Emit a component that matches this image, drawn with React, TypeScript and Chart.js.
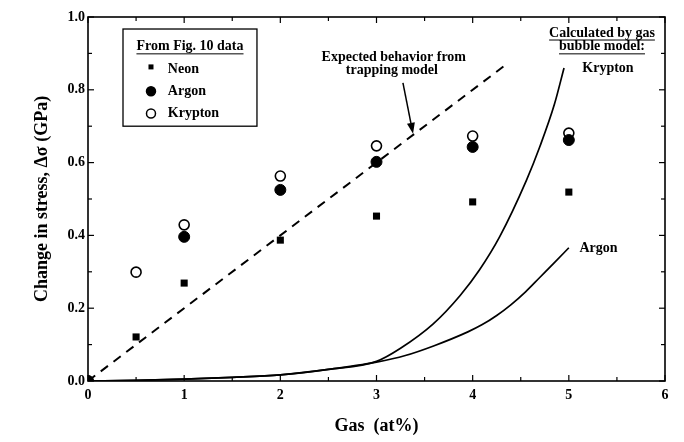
import React, { useEffect, useRef } from "react";
import { Chart, registerables } from "chart.js";

Chart.register(...registerables);

const FONT = '"Liberation Serif", "Times New Roman", serif';

// Measured data (from Fig. 10)
const neonX = [0, 0.5, 1, 2, 3, 4, 5];
const neonY = [0, 0.121, 0.269, 0.387, 0.453, 0.492, 0.519];
const argonX = [0, 1, 2, 3, 4, 5];
const argonY = [0, 0.396, 0.525, 0.602, 0.643, 0.662];
const kryptonX = [0, 0.5, 1, 2, 3, 4, 5];
const kryptonY = [0, 0.299, 0.429, 0.563, 0.646, 0.673, 0.681];

// Trapping model (dashed)
const trapX = [0, 4.34];
const trapY = [0, 0.868];

// Gas bubble model curves
const krModelX = [0, 0.5, 1, 1.5, 2, 2.5, 3, 3.25, 3.59, 3.87, 4.07, 4.28, 4.56, 4.7, 4.85, 4.95];
const krModelY = [0, 0.002, 0.005, 0.01, 0.017, 0.032, 0.054, 0.09, 0.157, 0.235, 0.305, 0.396, 0.552, 0.645, 0.76, 0.86];
const arModelX = [0, 0.5, 1, 1.5, 2, 2.5, 3, 3.3, 3.6, 3.95, 4.1, 4.25, 4.4, 4.55, 4.7, 4.85, 5.0];
const arModelY = [0, 0.002, 0.005, 0.01, 0.017, 0.032, 0.052, 0.07, 0.097, 0.135, 0.155, 0.18, 0.21, 0.245, 0.285, 0.325, 0.366];

// Axis ticks
const xTicks = [0, 1, 2, 3, 4, 5, 6];
const xMinorTicks = [0.5, 1.5, 2.5, 3.5, 4.5, 5.5];
const yTicks = [0, 0.2, 0.4, 0.6, 0.8, 1.0];
const yMinorTicks = [0.1, 0.3, 0.5, 0.7, 0.9];

const legendTitle = "From Fig. 10 data";
const trapLabel = ["Expected behavior from", "trapping model"];
const bubbleTitle = ["Calculated by gas", "bubble model:"];

const pts = (xs: number[], ys: number[]) => xs.map((x, i) => ({ x, y: ys[i] }));

function underlineText(ctx: CanvasRenderingContext2D, text: string, cx: number, cy: number) {
  ctx.fillText(text, cx, cy);
  const w = ctx.measureText(text).width;
  ctx.beginPath();
  ctx.lineWidth = 1;
  ctx.moveTo(cx - w / 2, cy + 7);
  ctx.lineTo(cx + w / 2, cy + 7);
  ctx.stroke();
}

const decor = {
  id: "decor",
  afterDatasetsDraw(chart: any) {
    const { ctx, chartArea: a, scales } = chart;
    const xs = scales.x;
    const ys = scales.y;
    ctx.save();
    ctx.strokeStyle = "#000";
    ctx.fillStyle = "#000";
    // frame
    ctx.lineWidth = 1.6;
    ctx.strokeRect(a.left, a.top, a.right - a.left, a.bottom - a.top);
    // ticks (inward)
    ctx.lineWidth = 1.2;
    const tick = (x1: number, y1: number, x2: number, y2: number) => {
      ctx.beginPath();
      ctx.moveTo(x1, y1);
      ctx.lineTo(x2, y2);
      ctx.stroke();
    };
    xTicks.forEach((v) => {
      const p = xs.getPixelForValue(v);
      tick(p, a.bottom, p, a.bottom - 6);
      tick(p, a.top, p, a.top + 6);
    });
    xMinorTicks.forEach((v) => {
      const p = xs.getPixelForValue(v);
      tick(p, a.bottom, p, a.bottom - 4);
      tick(p, a.top, p, a.top + 4);
    });
    yTicks.forEach((v) => {
      const p = ys.getPixelForValue(v);
      tick(a.left, p, a.left + 6, p);
      tick(a.right, p, a.right - 6, p);
    });
    yMinorTicks.forEach((v) => {
      const p = ys.getPixelForValue(v);
      tick(a.left, p, a.left + 4, p);
      tick(a.right, p, a.right - 4, p);
    });

    // legend box
    const bx0 = xs.getPixelForValue(0.364);
    const bx1 = xs.getPixelForValue(1.757);
    const by0 = ys.getPixelForValue(0.967);
    const by1 = ys.getPixelForValue(0.70);
    ctx.fillStyle = "#fff";
    ctx.fillRect(bx0, by0, bx1 - bx0, by1 - by0);
    ctx.lineWidth = 1.3;
    ctx.strokeRect(bx0, by0, bx1 - bx0, by1 - by0);
    ctx.fillStyle = "#000";
    ctx.font = `bold 14px ${FONT}`;
    ctx.textAlign = "center";
    ctx.textBaseline = "middle";
    underlineText(ctx, legendTitle, (bx0 + bx1) / 2, ys.getPixelForValue(0.918));
    const rowsY = [0.856, 0.796, 0.735];
    const mx = xs.getPixelForValue(0.655);
    const tx = xs.getPixelForValue(0.83);
    for (let i = 0; i < 3; i++) {
      const ds = chart.data.datasets[i];
      const py = ys.getPixelForValue(rowsY[i]);
      ctx.lineWidth = 1.5;
      if (ds.pointStyle === "rect") {
        ctx.fillStyle = "#000";
        ctx.fillRect(mx - 2.5, py - 5, 5, 5);
      } else {
        ctx.beginPath();
        ctx.arc(mx, py, 4.5, 0, Math.PI * 2);
        ctx.fillStyle = ds.backgroundColor;
        ctx.fill();
        ctx.strokeStyle = "#000";
        ctx.stroke();
      }
      ctx.fillStyle = "#000";
      ctx.textAlign = "left";
      ctx.fillText(ds.label, tx, py);
    }

    // trapping model annotation
    ctx.textAlign = "center";
    ctx.font = `bold 14px ${FONT}`;
    ctx.fillText(trapLabel[0], xs.getPixelForValue(3.18), ys.getPixelForValue(0.89));
    ctx.fillText(trapLabel[1], xs.getPixelForValue(3.16), ys.getPixelForValue(0.852));
    const ax0 = xs.getPixelForValue(3.275);
    const ay0 = ys.getPixelForValue(0.819);
    const ax1 = xs.getPixelForValue(3.38);
    const ay1 = ys.getPixelForValue(0.679);
    const ang = Math.atan2(ay1 - ay0, ax1 - ax0);
    const hl = 11;
    const hw = 4;
    ctx.lineWidth = 1.5;
    ctx.beginPath();
    ctx.moveTo(ax0, ay0);
    ctx.lineTo(ax1 - hl * Math.cos(ang), ay1 - hl * Math.sin(ang));
    ctx.stroke();
    ctx.beginPath();
    ctx.moveTo(ax1, ay1);
    ctx.lineTo(ax1 - hl * Math.cos(ang) + hw * Math.sin(ang), ay1 - hl * Math.sin(ang) - hw * Math.cos(ang));
    ctx.lineTo(ax1 - hl * Math.cos(ang) - hw * Math.sin(ang), ay1 - hl * Math.sin(ang) + hw * Math.cos(ang));
    ctx.closePath();
    ctx.fill();

    // bubble model annotation
    ctx.strokeStyle = "#000";
    underlineText(ctx, bubbleTitle[0], xs.getPixelForValue(5.345), ys.getPixelForValue(0.956));
    underlineText(ctx, bubbleTitle[1], xs.getPixelForValue(5.345), ys.getPixelForValue(0.918));
    ctx.fillText(chart.data.datasets[4].label, xs.getPixelForValue(5.407), ys.getPixelForValue(0.86));
    ctx.textAlign = "left";
    ctx.fillText(chart.data.datasets[5].label, xs.getPixelForValue(5.11), ys.getPixelForValue(0.363));
    ctx.restore();
  },
};

export default function App() {
  const ref = useRef<HTMLCanvasElement>(null);
  useEffect(() => {
    if (!ref.current) return;
    const tickFont = { family: FONT, size: 14, weight: "bold" as const };
    const titleFont = { family: FONT, size: 18, weight: "bold" as const };
    const chart = new Chart(ref.current, {
      type: "scatter",
      data: {
        datasets: [
          {
            label: "Neon",
            data: pts(neonX, neonY),
            pointStyle: "rect",
            pointRadius: 5,
            backgroundColor: "#000",
            borderColor: "#000",
            borderWidth: 0,
          },
          {
            label: "Argon",
            data: pts(argonX, argonY),
            pointStyle: "circle",
            pointRadius: 5.5,
            backgroundColor: "#000",
            borderColor: "#000",
            borderWidth: 1,
          },
          {
            label: "Krypton",
            data: pts(kryptonX, kryptonY),
            pointStyle: "circle",
            pointRadius: 5,
            backgroundColor: "#fff",
            borderColor: "#000",
            borderWidth: 1.6,
          },
          {
            label: "Expected behavior from trapping model",
            data: pts(trapX, trapY),
            showLine: true,
            pointRadius: 0,
            borderColor: "#000",
            borderWidth: 2,
            borderDash: [9, 7],
          },
          {
            label: "Krypton",
            data: pts(krModelX, krModelY),
            showLine: true,
            pointRadius: 0,
            borderColor: "#000",
            borderWidth: 1.7,
            cubicInterpolationMode: "monotone",
          },
          {
            label: "Argon",
            data: pts(arModelX, arModelY),
            showLine: true,
            pointRadius: 0,
            borderColor: "#000",
            borderWidth: 1.7,
            cubicInterpolationMode: "monotone",
          },
        ],
      },
      options: {
        responsive: false,
        animation: false,
        events: [],
        layout: { padding: { left: 0, right: 19, top: 17, bottom: 0 } },
        plugins: { legend: { display: false }, tooltip: { enabled: false } },
        scales: {
          x: {
            type: "linear",
            min: 0,
            max: 6,
            afterBuildTicks: (s: any) => {
              s.ticks = xTicks.map((v) => ({ value: v }));
            },
            afterFit: (s: any) => {
              s.height = 61;
            },
            ticks: {
              font: tickFont,
              color: "#000",
              padding: 6,
              maxRotation: 0,
              autoSkip: false,
              callback: (v: any) => String(v),
            },
            grid: { display: false, drawTicks: false },
            border: { display: false },
            title: {
              display: true,
              text: "Gas  (at%)",
              font: titleFont,
              color: "#000",
              padding: { top: 0, bottom: 5 },
            },
          },
          y: {
            type: "linear",
            min: 0,
            max: 1,
            afterBuildTicks: (s: any) => {
              s.ticks = yTicks.map((v) => ({ value: v }));
            },
            afterFit: (s: any) => {
              s.width = 88;
            },
            ticks: {
              font: tickFont,
              color: "#000",
              padding: 3,
              autoSkip: false,
              callback: (v: any) => Number(v).toFixed(1),
            },
            grid: { display: false, drawTicks: false },
            border: { display: false },
            title: {
              display: true,
              text: "Change in stress, Δσ (GPa)",
              font: titleFont,
              color: "#000",
              padding: { top: 32, bottom: 0 },
            },
          },
        },
      },
      plugins: [decor],
    } as any);
    return () => chart.destroy();
  }, []);
  return (
    <div style={{ position: "absolute", left: 0, top: 0, width: 684, height: 442, background: "#fff" }}>
      <canvas ref={ref} width={684} height={442} style={{ display: "block" }} />
    </div>
  );
}
